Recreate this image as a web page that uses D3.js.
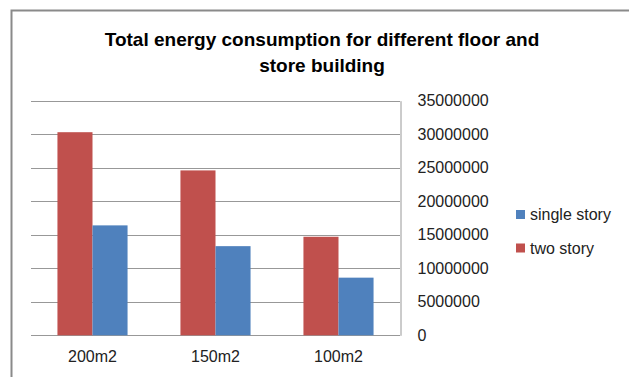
<!DOCTYPE html>
<html>
<head>
<meta charset="utf-8">
<script src="https://cdn.jsdelivr.net/npm/d3@7"></script>
<style>
  body { margin: 0; background: #fff; }
  svg { display: block; font-family: "Liberation Sans", Arial, sans-serif; }
</style>
</head>
<body>
<svg id="chart" width="629" height="377"></svg>
<script>
"use strict";

// chart data
var categories = ["200m2", "150m2", "100m2"];
var single_story = [16400000, 13300000, 8600000];
var two_story = [30300000, 24600000, 14700000];
var y_ticks = [0, 5000000, 10000000, 15000000, 20000000, 25000000, 30000000, 35000000];
var series_names = ["single story", "two story"];

var svg = d3.select("#chart");

// outer frame of the chart
svg.append("path")
    .attr("d", "M11.5,377 V10.5 H629")
    .attr("fill", "none")
    .attr("stroke", "#8a8a8a")
    .attr("stroke-width", 2);

// title
var title = svg.append("text")
    .attr("x", 322)
    .attr("font-size", 19)
    .attr("font-weight", "bold")
    .attr("fill", "#000")
    .attr("text-anchor", "middle");
title.append("tspan").attr("x", 322).attr("y", 46).text("Total energy consumption  for different floor and");
title.append("tspan").attr("x", 322).attr("y", 72).text("store building");

var plot = { left: 31, right: 400, top: 100.7, bottom: 335.3 };

var x = d3.scaleBand()
    .domain(categories)
    .range([plot.left, plot.right]);

var y = d3.scaleLinear()
    .domain([0, 35000000])
    .range([plot.bottom, plot.top]);

// gridlines
svg.append("g")
    .selectAll("line")
    .data(y_ticks)
    .join("line")
    .attr("x1", plot.left)
    .attr("x2", plot.right)
    .attr("y1", function(d) { return Math.round(y(d)) + 0.5; })
    .attr("y2", function(d) { return Math.round(y(d)) + 0.5; })
    .attr("stroke", "#989898")
    .attr("stroke-width", 1);

// bars: two story sits on the left, single story on the right
var bar_w = x.bandwidth() * 0.285;
var groups = svg.append("g")
    .selectAll("g")
    .data(categories)
    .join("g")
    .attr("transform", function(d) { return "translate(" + (x(d) + x.bandwidth() / 2) + ",0)"; });

groups.append("rect")
    .attr("x", -bar_w)
    .attr("width", bar_w)
    .attr("y", function(d, i) { return y(two_story[i]); })
    .attr("height", function(d, i) { return y(0) - y(two_story[i]); })
    .attr("fill", "#C0504D");

groups.append("rect")
    .attr("x", 0)
    .attr("width", bar_w)
    .attr("y", function(d, i) { return y(single_story[i]); })
    .attr("height", function(d, i) { return y(0) - y(single_story[i]); })
    .attr("fill", "#4F81BD");

// right hand axis
var y_axis = svg.append("g")
    .attr("transform", "translate(" + (Math.round(plot.right) + 0.5) + ",0)")
    .call(d3.axisRight(y).tickValues(y_ticks).tickSize(0).tickPadding(17).tickFormat(d3.format("d")));
y_axis.select(".domain").attr("stroke", "#989898");
y_axis.selectAll("text")
    .attr("font-size", 16)
    .attr("font-family", "Liberation Sans, Arial, sans-serif")
    .attr("fill", "#222");

// category labels
svg.append("g")
    .selectAll("text")
    .data(categories)
    .join("text")
    .attr("x", function(d) { return x(d) + x.bandwidth() / 2; })
    .attr("y", 362)
    .attr("text-anchor", "middle")
    .attr("font-size", 16)
    .attr("fill", "#222")
    .text(function(d) { return d; });

// legend
var legend_colors = ["#4F81BD", "#C0504D"];
var legend = svg.append("g")
    .selectAll("g")
    .data(series_names)
    .join("g")
    .attr("transform", function(d, i) { return "translate(516," + (210 + i * 33.5) + ")"; });
legend.append("rect")
    .attr("width", 9)
    .attr("height", 9)
    .attr("fill", function(d, i) { return legend_colors[i]; });
legend.append("text")
    .attr("x", 14)
    .attr("y", 10)
    .attr("font-size", 16)
    .attr("fill", "#222")
    .text(function(d) { return d; });
</script>
</body>
</html>
